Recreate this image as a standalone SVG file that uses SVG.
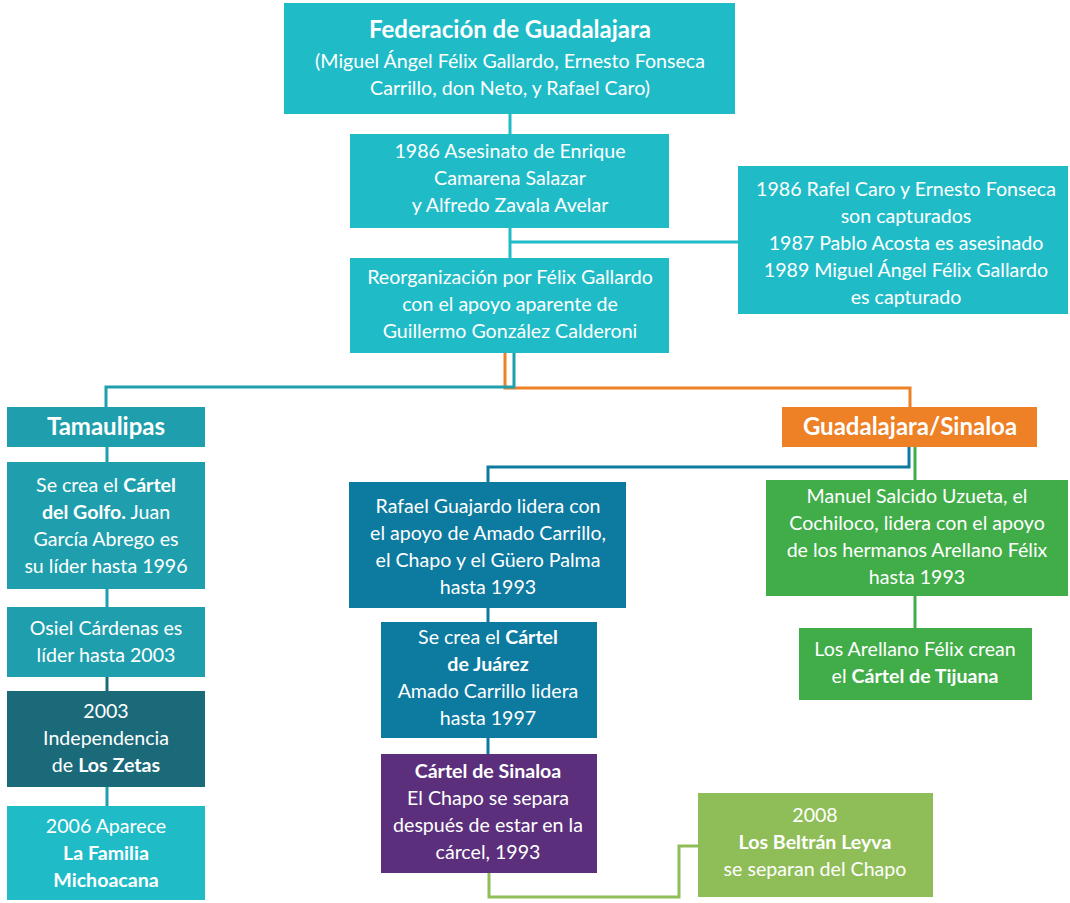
<svg xmlns="http://www.w3.org/2000/svg" width="1070" height="903" viewBox="0 0 1070 903">
<style>
text{font-family:Lato,"Open Sans","Liberation Sans",sans-serif;font-size:19.6px;fill:#ffffff;text-anchor:middle}
.b{font-weight:bold}
.t{font-size:24px;font-weight:bold}
.h{font-size:24px;font-weight:bold}
.ln{fill:none;stroke-width:3}
</style>
<rect width="1070" height="903" fill="#ffffff"/>
<g id="connectors">
<path class="ln" stroke="#1fbcc8" d="M510 114V134M510 228V258M510 242H739"/>
<path class="ln" stroke="#ee8025" d="M505 353V388H910V407"/>
<path class="ln" stroke="#1f9fad" d="M514 353V387H106V407"/>
<path class="ln" stroke="#1f9fad" d="M107 447V462M107 589V607M107 787V806"/>
<path class="ln" stroke="#1b6a7a" d="M107 677V691"/>
<path class="ln" stroke="#0d7aa0" d="M909 447V467H488V482M488 608V622M488 738V754"/>
<path class="ln" stroke="#41ad49" d="M915 447V480M915 596V628"/>
<path class="ln" stroke="#8fbe58" d="M489 873V897H679V846H698"/>
</g>
<g id="federacion"><rect x="284" y="3" width="451" height="111" fill="#1fbcc8"/>
<text class="t" x="510" y="38">Federación de Guadalajara</text>
<text x="510" y="68">(Miguel Ángel Félix Gallardo, Ernesto Fonseca</text>
<text x="510" y="95">Carrillo, don Neto, y Rafael Caro)</text></g>
<g id="asesinato"><rect x="350" y="134" width="319" height="94" fill="#1fbcc8"/>
<text x="510" y="158">1986 Asesinato de Enrique</text>
<text x="510" y="185">Camarena Salazar</text>
<text x="510" y="212">y Alfredo Zavala Avelar</text></g>
<g id="reorganizacion"><rect x="350" y="258" width="319" height="95" fill="#1fbcc8"/>
<text x="510" y="284">Reorganización por Félix Gallardo</text>
<text x="510" y="311">con el apoyo aparente de</text>
<text x="510" y="338">Guillermo González Calderoni</text></g>
<g id="capturas"><rect x="738" y="166" width="330" height="148" fill="#1fbcc8"/>
<text x="906" y="196">1986 Rafel Caro y Ernesto Fonseca</text>
<text x="906" y="223">son capturados</text>
<text x="906" y="250">1987 Pablo Acosta es asesinado</text>
<text x="906" y="277">1989 Miguel Ángel Félix Gallardo</text>
<text x="906" y="304">es capturado</text></g>
<g id="tamaulipas"><rect x="7" y="407" width="198" height="40" fill="#1f9fad"/>
<text class="h" x="106" y="435">Tamaulipas</text></g>
<g id="golfo"><rect x="7" y="462" width="198" height="127" fill="#1f9fad"/>
<text x="106" y="492">Se crea el <tspan class="b">Cártel</tspan></text>
<text x="106" y="519"><tspan class="b">del Golfo.</tspan> Juan</text>
<text x="106" y="546">García Abrego es</text>
<text x="106" y="573">su líder hasta 1996</text></g>
<g id="osiel"><rect x="7" y="607" width="198" height="70" fill="#1f9fad"/>
<text x="106" y="635">Osiel Cárdenas es</text>
<text x="106" y="662">líder hasta 2003</text></g>
<g id="zetas"><rect x="7" y="691" width="198" height="96" fill="#1b6a7a"/>
<text x="106" y="718">2003</text>
<text x="106" y="745">Independencia</text>
<text x="106" y="772">de <tspan class="b">Los Zetas</tspan></text></g>
<g id="familia"><rect x="7" y="806" width="198" height="94" fill="#1fbcc8"/>
<text x="106" y="833">2006 Aparece</text>
<text class="b" x="106" y="860">La Familia</text>
<text class="b" x="106" y="887">Michoacana</text></g>
<g id="guadalajara-sinaloa"><rect x="782" y="407" width="255" height="40" fill="#ee8025"/>
<text class="h" x="910" y="435">Guadalajara/Sinaloa</text></g>
<g id="guajardo"><rect x="349" y="482" width="277" height="126" fill="#0d7aa0"/>
<text x="488" y="513">Rafael Guajardo lidera con</text>
<text x="488" y="540">el apoyo de Amado Carrillo,</text>
<text x="488" y="567">el Chapo y el Güero Palma</text>
<text x="488" y="594">hasta 1993</text></g>
<g id="juarez"><rect x="381" y="622" width="216" height="116" fill="#0d7aa0"/>
<text x="488" y="644">Se crea el <tspan class="b">Cártel</tspan></text>
<text class="b" x="488" y="671">de Juárez</text>
<text x="488" y="698">Amado Carrillo lidera</text>
<text x="488" y="725">hasta 1997</text></g>
<g id="sinaloa"><rect x="381" y="754" width="216" height="119" fill="#5b2f7c"/>
<text class="b" x="488" y="778">Cártel de Sinaloa</text>
<text x="488" y="805">El Chapo se separa</text>
<text x="488" y="832">después de estar en la</text>
<text x="488" y="859">cárcel, 1993</text></g>
<g id="salcido"><rect x="766" y="480" width="302" height="116" fill="#41ad49"/>
<text x="917" y="503">Manuel Salcido Uzueta, el</text>
<text x="917" y="530">Cochiloco, lidera con el apoyo</text>
<text x="917" y="557">de los hermanos Arellano Félix</text>
<text x="917" y="584">hasta 1993</text></g>
<g id="tijuana"><rect x="799" y="628" width="233" height="72" fill="#41ad49"/>
<text x="915" y="656">Los Arellano Félix crean</text>
<text x="915" y="683">el <tspan class="b">Cártel de Tijuana</tspan></text></g>
<g id="beltran"><rect x="698" y="793" width="235" height="104" fill="#8fbe58"/>
<text x="815" y="822">2008</text>
<text class="b" x="815" y="849">Los Beltrán Leyva</text>
<text x="815" y="876">se separan del Chapo</text></g>
</svg>
